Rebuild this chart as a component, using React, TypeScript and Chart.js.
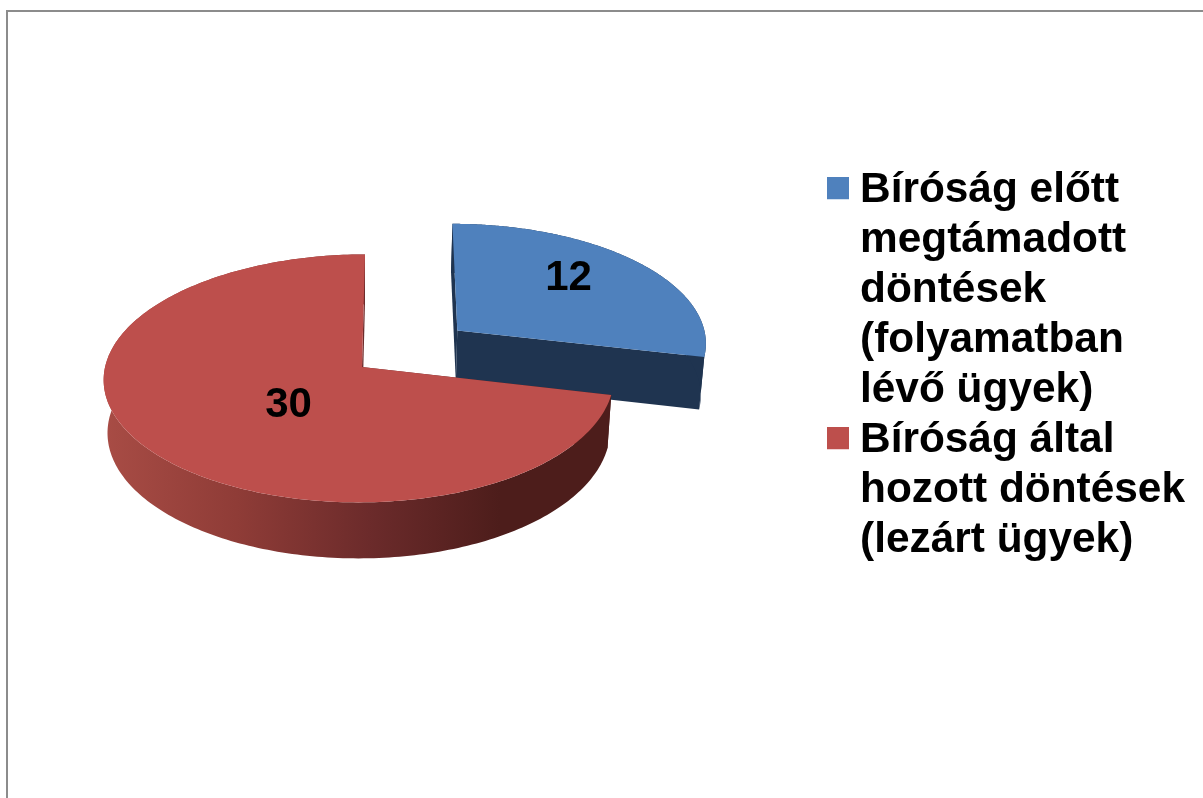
import React, { useEffect, useRef } from "react";
import { Chart, registerables } from "chart.js";

Chart.register(...registerables);

const categories: string[][] = [
  ["Bíróság előtt", "megtámadott", "döntések", "(folyamatban", "lévő ügyek)"],
  ["Bíróság által", "hozott döntések", "(lezárt ügyek)"],
];
const values: number[] = [12, 30];
const topColors: string[] = ["#4f81bd", "#bd4f4c"];
const blueWall = "#1f3450";
const redWallStops: string[] = ["#a84c45", "#8f3c37", "#6c2b2b", "#4d1d1b"];
const sliceOffsets: number[] = [496, 0];

// projection of the pie plane on screen
const CX = 362;
const CY = 367;
const K = 0.484;
const P = 0.000362;
const SHEAR = 0.013;
const SIDE_PERSPECTIVE = [0, 0.000045];
const DEPTH = 53.5;
const SHRINK = 0.985;
const FONT = '"Liberation Sans", Arial, sans-serif';

const project = (u: number, v: number, low: boolean, idx: number): [number, number] => {
  let s = 1 / (1 - P * v);
  let sx = 1 / (1 - P * v + SIDE_PERSPECTIVE[idx] * u);
  if (low) {
    s *= SHRINK;
    sx *= SHRINK;
  }
  return [CX + (u - SHEAR * v) * sx, CY + (K * v + (low ? DEPTH : 0)) * s];
};

const trace = (ctx: CanvasRenderingContext2D, pts: [number, number][]) => {
  ctx.beginPath();
  pts.forEach(([x, y], i) => (i ? ctx.lineTo(x, y) : ctx.moveTo(x, y)));
  ctx.closePath();
};

const labelFraction = [0.55, 0.4];
const labelNudge: [number, number][] = [[10, -13], [9, 7]];

const pie3d = {
  id: "pie3d",
  beforeDraw(chart: any) {
    // the legend swatches reach past the box it reserves for itself
    chart.legend.draw = function () {
      const c = this.ctx;
      c.save();
      this._draw();
      c.restore();
    };
  },
  beforeDatasetDraw(chart: any) {
    const ctx: CanvasRenderingContext2D = chart.ctx;
    const arcs = chart.getDatasetMeta(0).data;
    arcs.forEach((arc: any, idx: number) => {
      const a0 = arc.startAngle;
      const a1 = arc.endAngle;
      const R = arc.outerRadius;
      const mid = (a0 + a1) / 2;
      const d = (arc.options.offset || 0) / 4;
      const ox = Math.cos(mid) * d;
      const oy = Math.sin(mid) * d;
      const rim = (low: boolean) => {
        const pts: [number, number][] = [];
        for (let i = 0; i <= 240; i++) {
          const a = a0 + ((a1 - a0) * i) / 240;
          pts.push(project(ox + R * Math.cos(a), oy + R * Math.sin(a), low, idx));
        }
        return pts;
      };
      const top = rim(false);
      const bottom = rim(true);
      const apexT = project(ox, oy, false, idx);
      const apexB = project(ox, oy, true, idx);

      let wall: string | CanvasGradient = blueWall;
      if (idx === 1) {
        const g = ctx.createLinearGradient(105, 0, 500, 0);
        redWallStops.forEach((c, i) => g.addColorStop(i / (redWallStops.length - 1), c));
        wall = g;
      }
      ctx.save();
      ctx.fillStyle = wall;
      trace(ctx, [apexT, top[0], bottom[0], apexB]);
      ctx.fill();
      trace(ctx, [apexT, top[240], bottom[240], apexB]);
      ctx.fill();
      trace(ctx, [...top, ...bottom.slice().reverse()]);
      ctx.fill();
      ctx.fillStyle = arc.options.backgroundColor;
      trace(ctx, [apexT, ...top]);
      ctx.fill();
      ctx.restore();
    });
    arcs.forEach((arc: any, idx: number) => {
      const mid = (arc.startAngle + arc.endAngle) / 2;
      const d = (arc.options.offset || 0) / 4 + arc.outerRadius * labelFraction[idx];
      const [x, y] = project(Math.cos(mid) * d, Math.sin(mid) * d, false, idx);
      ctx.save();
      ctx.fillStyle = "#000";
      ctx.font = `bold 42px ${FONT}`;
      ctx.textAlign = "center";
      ctx.textBaseline = "middle";
      ctx.fillText(String(values[idx]), x + labelNudge[idx][0], y + labelNudge[idx][1]);
      ctx.restore();
    });
    return false;
  },
};

const swatch = (color: string) => {
  const c = document.createElement("canvas");
  c.width = 22;
  c.height = 26;
  const g = c.getContext("2d")!;
  g.fillStyle = color;
  g.fillRect(0, 0, 22, 22);
  return c;
};

export default function App() {
  const ref = useRef<HTMLCanvasElement>(null);
  useEffect(() => {
    document.body.style.margin = "0";
    document.body.style.overflow = "hidden";
    const chart = new Chart(ref.current!, {
      type: "pie",
      data: {
        labels: categories.map((c) => c.join(" ")),
        datasets: [
          {
            data: values,
            backgroundColor: topColors,
            borderWidth: 0,
            offset: sliceOffsets,
          },
        ],
      },
      options: {
        responsive: false,
        animation: false,
        radius: 254,
        layout: { padding: { top: 0, right: 8, bottom: 60, left: 0 } },
        plugins: {
          tooltip: { enabled: false },
          legend: {
            position: "right",
            labels: {
              usePointStyle: true,
              pointStyleWidth: 2,
              boxHeight: 22,
              padding: 0,
              color: "#000",
              font: { family: FONT, size: 42.4, weight: "bold", lineHeight: 50 / 42.4 },
              generateLabels: () =>
                categories.map((text, i) => ({
                  text,
                  fillStyle: topColors[i],
                  strokeStyle: topColors[i],
                  lineWidth: 0,
                  pointStyle: swatch(topColors[i]),
                  hidden: false,
                  index: i,
                })),
            },
          },
        },
      } as any,
      plugins: [pie3d],
    } as any);
    return () => chart.destroy();
  }, []);
  return (
    <div style={{ position: "fixed", left: 0, top: 0, width: 1203, height: 798, background: "#fff" }}>
      <div
        style={{
          position: "absolute",
          left: 6,
          top: 10,
          right: 0,
          bottom: 0,
          borderLeft: "2px solid #8c8c8c",
          borderTop: "2px solid #8c8c8c",
        }}
      />
      <canvas ref={ref} width={1203} height={798} style={{ position: "absolute", left: 0, top: 0, display: "block" }} />
    </div>
  );
}
